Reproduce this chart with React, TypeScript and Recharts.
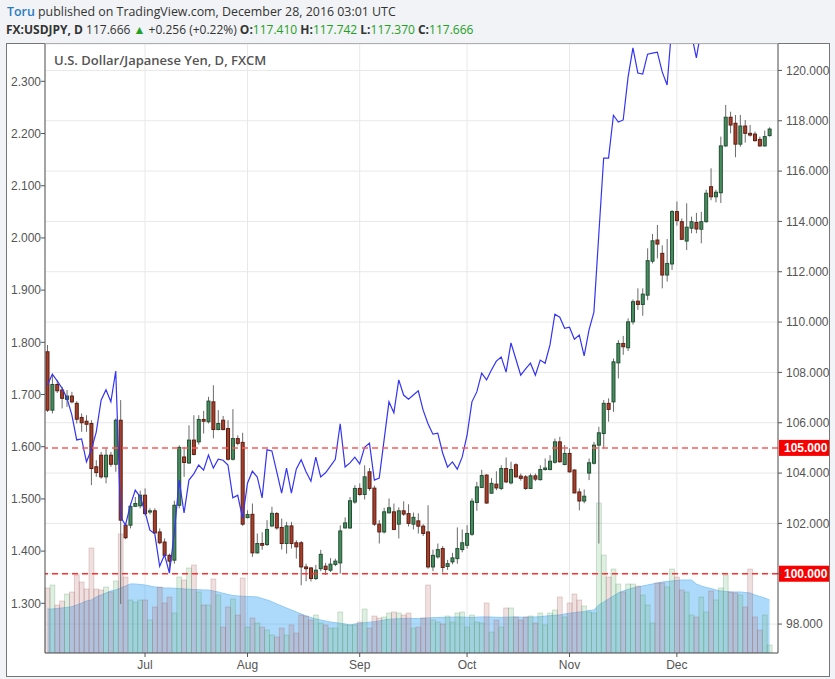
import React from "react";
import { ComposedChart, XAxis, YAxis, CartesianGrid, Bar, Line, Area, ReferenceLine } from "recharts";

// daily bars, first session of the window
const firstDay = "2016-06-03";
const monthStarts = ["2016-07-01", "2016-08-01", "2016-09-01", "2016-10-03", "2016-11-01", "2016-12-01"];
const monthNames = ["Jan", "Feb", "Mar", "Apr", "May", "Jun", "Jul", "Aug", "Sep", "Oct", "Nov", "Dec"];

// FX:USDJPY daily candles (right scale)
const opens = [
  108.82, 106.5, 107.52, 107.3, 106.93, 107.06, 106.77, 106.21, 106.06, 105.97,
  104.25, 104.71, 103.85, 104.71, 104.35, 106.1, 101.93, 101.93, 102.68, 102.7,
  103.12, 102.45, 102.5, 101.66, 101.26, 100.73, 100.54, 102.72, 104.64, 104.4,
  105.31, 105.24, 106.13, 106.04, 106.83, 105.73, 106.1, 105.77, 104.55, 105.37,
  105.22, 102.23, 102.36, 100.83, 101.2, 101.16, 101.9, 102.39, 101.84, 101.2,
  101.9, 101.23, 101.23, 100.27, 100.23, 99.81, 100.2, 100.3, 100.14, 100.37,
  100.43, 101.82, 101.82, 102.85, 103.39, 103.15, 104.05, 103.4, 101.97, 101.66,
  102.42, 102.46, 101.97, 102.5, 102.39, 101.97, 102.1, 101.89, 101.66, 100.27,
  100.67, 101.0, 100.29, 100.47, 100.6, 100.96, 101.13, 101.57, 102.83, 103.43,
  103.92, 103.2, 103.56, 103.39, 104.18, 103.61, 104.33, 103.88, 103.85, 103.39,
  103.89, 103.74, 104.14, 104.14, 104.43, 105.24, 104.34, 104.78, 104.12, 103.25,
  102.89, 104.0, 104.39, 105.11, 105.57, 106.77, 106.83, 108.38, 109.15, 108.98,
  110.01, 110.83, 110.7, 111.07, 112.42, 113.26, 112.73, 111.87, 112.31, 114.39,
  113.99, 113.22, 113.73, 113.96, 113.69, 113.99, 115.38, 114.98, 115.14, 117.0,
  118.14, 117.9, 117.07, 117.79, 117.5, 117.47, 117.26, 117.0, 117.41,
];
const highs = [
  109.09, 107.89, 107.69, 107.43, 107.3, 107.23, 106.86, 106.37, 106.3, 106.1,
  104.51, 104.84, 104.98, 104.84, 106.17, 106.9, 102.0, 102.8, 103.05, 103.3,
  103.39, 102.6, 102.6, 101.8, 101.4, 100.8, 102.9, 105.1, 105.04, 105.9,
  106.3, 106.3, 106.47, 107.03, 107.49, 106.5, 106.27, 106.1, 106.54, 105.5,
  105.6, 102.52, 102.79, 101.6, 101.65, 102.13, 102.66, 102.45, 102.19, 102.06,
  102.06, 101.33, 101.3, 100.4, 100.27, 100.35, 100.95, 100.43, 100.62, 100.6,
  101.92, 102.24, 103.05, 103.52, 103.59, 104.31, 104.2, 103.5, 102.13, 102.62,
  102.99, 102.79, 102.64, 102.88, 102.76, 102.43, 102.4, 101.97, 102.72, 100.96,
  101.2, 101.1, 100.55, 100.83, 101.84, 101.76, 101.93, 103.0, 103.65, 104.13,
  103.95, 103.8, 104.07, 104.31, 104.62, 104.45, 104.39, 103.98, 103.92, 103.98,
  103.98, 104.31, 104.58, 104.71, 105.37, 105.44, 105.11, 104.98, 104.15, 103.39,
  103.35, 104.58, 105.24, 105.84, 106.9, 106.97, 108.55, 109.28, 109.45, 110.15,
  110.9, 111.34, 111.34, 112.93, 113.5, 113.86, 113.05, 113.3, 114.45, 114.79,
  114.12, 114.72, 114.19, 114.34, 114.38, 115.26, 116.11, 115.26, 117.37, 118.63,
  118.36, 118.23, 118.23, 118.03, 117.83, 117.57, 117.37, 117.61, 117.74,
];
const lows = [
  106.43, 106.37, 107.18, 106.57, 106.63, 106.77, 105.97, 105.64, 105.64, 103.52,
  103.85, 103.78, 103.59, 104.25, 104.05, 98.8, 101.37, 101.8, 102.65, 102.6,
  102.32, 102.35, 101.6, 101.17, 100.69, 100.15, 100.4, 102.6, 103.85, 104.36,
  104.7, 105.13, 105.57, 105.97, 105.38, 105.7, 105.7, 104.5, 104.5, 105.1,
  101.9, 102.2, 100.67, 100.8, 100.95, 101.1, 101.85, 101.75, 100.96, 100.8,
  101.0, 100.6, 99.54, 99.7, 99.69, 99.75, 100.1, 99.95, 100.07, 100.3,
  100.01, 101.8, 101.78, 102.78, 103.1, 102.95, 103.3, 101.9, 101.2, 101.6,
  102.4, 101.73, 101.4, 102.3, 101.88, 101.76, 101.6, 101.5, 100.2, 100.1,
  100.6, 100.05, 100.15, 100.37, 100.4, 100.85, 101.0, 101.5, 102.5, 103.4,
  102.78, 103.2, 103.32, 103.32, 103.6, 103.55, 103.82, 103.7, 103.33, 103.37,
  103.68, 103.7, 104.1, 104.11, 104.38, 104.41, 104.31, 104.01, 103.2, 102.52,
  102.8, 103.72, 104.34, 101.2, 104.98, 106.04, 106.43, 107.76, 108.7, 108.85,
  109.9, 110.48, 110.25, 110.87, 112.33, 112.53, 111.34, 111.61, 112.07, 113.83,
  113.26, 112.86, 113.53, 113.53, 113.13, 113.95, 114.84, 114.76, 114.73, 116.97,
  117.5, 116.55, 116.97, 117.13, 117.37, 117.17, 116.97, 116.97, 117.37,
];
const closes = [
  106.5, 107.52, 107.27, 106.97, 107.06, 106.83, 106.14, 106.0, 105.94, 104.18,
  104.02, 103.85, 104.71, 104.35, 106.1, 102.13, 101.43, 102.68, 102.79, 103.12,
  102.39, 102.5, 101.62, 101.23, 100.73, 100.5, 102.72, 105.02, 104.42, 105.31,
  104.74, 106.13, 106.06, 106.86, 105.73, 105.97, 105.73, 104.55, 105.37, 105.18,
  101.97, 102.35, 100.83, 101.2, 101.13, 101.76, 102.4, 101.82, 101.2, 101.9,
  101.2, 101.07, 100.27, 100.2, 99.81, 100.14, 100.77, 100.17, 100.38, 100.5,
  101.7, 102.02, 102.9, 103.39, 103.15, 103.85, 103.39, 101.97, 101.66, 102.46,
  102.62, 101.76, 102.5, 102.37, 102.0, 102.24, 101.89, 101.6, 100.27, 100.73,
  100.96, 100.25, 100.4, 100.63, 101.0, 101.23, 101.6, 102.88, 103.45, 103.9,
  102.81, 103.59, 103.41, 104.18, 103.65, 104.14, 103.85, 103.79, 103.39, 103.89,
  103.76, 104.14, 104.2, 104.47, 105.24, 104.45, 104.78, 104.05, 103.21, 102.89,
  103.08, 104.41, 105.11, 105.6, 106.77, 106.53, 108.42, 109.15, 109.02, 110.01,
  110.81, 110.7, 111.11, 112.44, 113.23, 113.1, 111.87, 112.33, 114.39, 114.03,
  113.29, 113.77, 113.99, 113.7, 113.99, 115.12, 114.98, 115.16, 117.0, 118.14,
  117.83, 117.07, 117.79, 117.5, 117.43, 117.21, 117.0, 117.37, 117.67,
];

// comparison symbol (blue line, left scale)
const compare = [
  1.718, 1.739, 1.726, 1.712, 1.693, 1.661, 1.613, 1.615, 1.571, 1.594,
  1.628, 1.689, 1.709, 1.686, 1.745, 1.465, 1.45, 1.488, 1.517, 1.504,
  1.475, 1.44, 1.433, 1.371, 1.393, 1.358, 1.435, 1.536, 1.473, 1.536,
  1.548, 1.565, 1.555, 1.584, 1.559, 1.576, 1.574, 1.565, 1.502, 1.507,
  1.463, 1.53, 1.553, 1.542, 1.502, 1.594, 1.592, 1.552, 1.511, 1.559,
  1.511, 1.557, 1.575, 1.552, 1.534, 1.58, 1.542, 1.55, 1.563, 1.576,
  1.644, 1.561, 1.569, 1.58, 1.567, 1.599, 1.607, 1.536, 1.54, 1.613,
  1.686, 1.665, 1.728, 1.699, 1.691, 1.699, 1.707, 1.67, 1.644, 1.624,
  1.626, 1.588, 1.561, 1.571, 1.557, 1.58, 1.622, 1.686, 1.705, 1.741,
  1.728, 1.747, 1.764, 1.772, 1.743, 1.799, 1.768, 1.737, 1.749, 1.76,
  1.737, 1.766, 1.76, 1.795, 1.854, 1.848, 1.827, 1.829, 1.806, 1.814,
  1.774, 1.824, 1.858, 2.006, 2.153, 2.153, 2.235, 2.222, 2.226, 2.308,
  2.364, 2.316, 2.314, 2.352, 2.354, 2.356, 2.318, 2.293, 2.41, 2.43,
  2.42, 2.4, 2.39, 2.345, 2.4, 2.43, 2.44, 2.45, 2.48, 2.51,
  2.5, 2.49, 2.5, 2.49, 2.48, 2.48, 2.47, 2.48, 2.49,
];

// volume and its moving average (hidden scale)
const volume = [
  65, 68, 48, 52, 59, 61, 78, 71, 64, 105,
  64, 63, 66, 61, 72, 119, 76, 53, 51, 53,
  53, 33, 46, 66, 50, 56, 40, 76, 73, 85,
  88, 61, 48, 48, 74, 58, 26, 46, 54, 38,
  75, 26, 35, 30, 26, 23, 18, 16, 25, 18,
  28, 20, 38, 37, 33, 38, 30, 28, 25, 25,
  41, 28, 28, 28, 31, 44, 25, 37, 35, 36,
  40, 41, 40, 38, 40, 25, 26, 35, 68, 33,
  31, 29, 37, 31, 40, 41, 26, 38, 31, 30,
  50, 21, 33, 26, 45, 45, 36, 33, 36, 37,
  30, 40, 28, 40, 43, 56, 36, 50, 59, 53,
  47, 41, 40, 150, 98, 76, 84, 69, 61, 69,
  69, 67, 58, 48, 30, 70, 70, 66, 84, 76,
  63, 61, 38, 36, 56, 41, 62, 53, 65, 78,
  61, 60, 58, 46, 84, 36, 23, 38, 8,
];
const volumeMA = [
  44, 44, 44.5, 45, 45.5, 46.3, 48, 50, 52, 53,
  56, 58, 60, 62, 63, 65, 67, 69, 69, 68.5,
  68, 67, 66, 65.5, 65, 65, 64.7, 64.5, 64, 63.7,
  63.5, 63.3, 63, 63, 62, 61, 59.7, 58.5, 57.5, 57,
  56.7, 56.5, 56.3, 56, 54.5, 53, 51.3, 49, 47, 45,
  43, 41, 39, 37, 35.5, 34, 33, 32, 31, 30.3,
  29.7, 29, 28, 29, 29.7, 30.3, 30.8, 31.3, 32, 33,
  33.7, 34, 34.3, 34.5, 34.7, 34.5, 34.5, 34.7, 35, 35.3,
  35.5, 35.7, 35.6, 35.8, 36, 35.9, 35.7, 35.6, 35.8, 36,
  36.1, 35.9, 35.7, 35.6, 35.8, 35.9, 36, 35.8, 35.7, 35.9,
  36, 36.3, 36.8, 37.3, 37.7, 38, 39, 39.7, 40.3, 41,
  41.3, 42.5, 43, 48, 51, 54, 57, 60, 62, 63.5,
  65, 66, 67, 68, 69, 70, 71, 71.5, 72, 72.5,
  73, 73, 73, 69, 67, 65.5, 64.5, 63, 62, 61.5,
  61, 61, 61, 60.5, 60, 58, 56.5, 55, 53,
];

const rightTicks = [98, 100, 102, 104, 106, 108, 110, 112, 114, 116, 118, 120];
const leftTicks = [1.3, 1.4, 1.5, 1.6, 1.7, 1.8, 1.9, 2.0, 2.1, 2.2, 2.3];
const priceLevels = [105, 100];

const AX_FONT = "'Liberation Sans', Arial, sans-serif";
const UI_FONT = "'Open Sans', 'Noto Sans', sans-serif";
const PLOT_W = 733;
const PAD_R = 6;
const BAND = (PLOT_W - PAD_R) / opens.length;

function tradingDays(start: string, n: number) {
  const out: string[] = [];
  const d = new Date(start + "T00:00:00Z");
  while (out.length < n) {
    const w = d.getUTCDay();
    if (w !== 0 && w !== 6) out.push(d.toISOString().slice(0, 10));
    d.setUTCDate(d.getUTCDate() + 1);
  }
  return out;
}

const dates = tradingDays(firstDay, opens.length);
const rows = dates.map((date, i) => ({
  date,
  open: opens[i],
  high: highs[i],
  low: lows[i],
  close: closes[i],
  cmp: compare[i],
  vol: volume[i],
  vma: volumeMA[i],
}));

function Candle(props: any) {
  const { x, y, width, height, payload } = props;
  if (x == null || !payload) return null;
  const top = Math.min(y, y + height);
  const bottom = Math.max(y, y + height);
  const span = payload.high - payload.low;
  const k = span > 0 ? (bottom - top) / span : 0;
  const at = (v: number) => top + (payload.high - v) * k;
  const cx = x + width / 2;
  const up = payload.close >= payload.open;
  const bTop = at(Math.max(payload.open, payload.close));
  const bBot = at(Math.min(payload.open, payload.close));
  return (
    <g>
      <line x1={cx} x2={cx} y1={top} y2={bottom} stroke="#6b6b6b" strokeWidth={1} />
      <rect
        x={cx - 1.5}
        y={bTop}
        width={3}
        height={Math.max(bBot - bTop, 1)}
        fill={up ? "#468c5f" : "#a63f2b"}
        stroke={up ? "#234f33" : "#5c1d12"}
        strokeWidth={1}
      />
    </g>
  );
}

function VolBar(props: any) {
  const { x, y, width, height, payload } = props;
  if (x == null || !payload) return null;
  const up = payload.close >= payload.open;
  const cx = x + width / 2;
  return (
    <rect
      x={cx - BAND / 2}
      y={y}
      width={BAND}
      height={Math.max(height, 0)}
      fill={up ? "rgba(110,180,120,0.22)" : "rgba(185,110,110,0.22)"}
      stroke={up ? "rgba(70,140,85,0.28)" : "rgba(150,80,80,0.28)"}
      strokeWidth={0.8}
    />
  );
}

function LeftTick(props: any) {
  const { x, y, payload } = props;
  return (
    <svg x={0} y={y - 9} width={x} height={18} overflow="hidden">
      <text x={11} y={9} dy="0.355em" fontSize={12} fill="#555" fontFamily={AX_FONT}>
        {Number(payload.value).toFixed(3)}
      </text>
    </svg>
  );
}

function PriceTag(props: any) {
  const vb = props.viewBox || {};
  const left = vb.x + vb.width + 1;
  return (
    <g>
      <rect x={left} y={vb.y - 8} width={51} height={16} fill="#f80000" />
      <text x={left + 5} y={vb.y} dy="0.355em" fontSize={12} fontWeight={700} fill="#fff" fontFamily={AX_FONT}>
        {props.text}
      </text>
    </g>
  );
}

function Header() {
  const green = "#22a022";
  return (
    <svg width={835} height={43} style={{ position: "absolute", left: 0, top: 0 }}>
      <text x={7} y={16} fontFamily={UI_FONT} fontSize={12.4} fill="#333">
        <tspan fill="#2a7cc0" fontWeight={600}>Toru</tspan>
        <tspan> published on TradingView.com, December 28, 2016 03:01 UTC</tspan>
      </text>
      <text x={6} y={33.5} fontFamily={UI_FONT} fontSize={12} fill="#333">
        <tspan fontWeight={700}>FX:USDJPY, D</tspan>
        <tspan> 117.666 </tspan>
        <tspan fill={green}>▲</tspan>
        <tspan> +0.256 (+0.22%) </tspan>
        <tspan fontWeight={700}>O:</tspan>
        <tspan fill={green}>117.410 </tspan>
        <tspan fontWeight={700}>H:</tspan>
        <tspan fill={green}>117.742 </tspan>
        <tspan fontWeight={700}>L:</tspan>
        <tspan fill={green}>117.370 </tspan>
        <tspan fontWeight={700}>C:</tspan>
        <tspan fill={green}>117.666</tspan>
      </text>
    </svg>
  );
}

export default function App() {
  return (
    <div style={{ position: "absolute", left: 0, top: 0, width: 835, height: 679, background: "#f1f3f6", overflow: "hidden" }}>
      <Header />
      <div
        style={{
          position: "absolute",
          left: 6,
          top: 43,
          width: 824,
          height: 634,
          boxSizing: "border-box",
          border: "1px solid #777",
          background: "#fff",
        }}
      />
      <div style={{ position: "absolute", left: 0, top: 0 }}>
        <ComposedChart
          width={829}
          height={679}
          data={rows}
          margin={{ top: 44, right: 0, bottom: 0, left: 0 }}
          barCategoryGap={0}
          barGap={0}
        >
          <CartesianGrid xAxisId="x" yAxisId="right" stroke="#e8e8e8" fill="#fff" />
          <XAxis
            xAxisId="x"
            dataKey="date"
            ticks={monthStarts}
            interval={0}
            padding={{ left: 0, right: PAD_R }}
            height={26}
            tickSize={4}
            tickMargin={3}
            axisLine={{ stroke: "#555" }}
            tickLine={{ stroke: "#555" }}
            tick={{ fill: "#555", fontSize: 12, fontFamily: AX_FONT }}
            tickFormatter={(d: string) => monthNames[Number(d.slice(5, 7)) - 1]}
          />
          <XAxis xAxisId="xv" dataKey="date" hide padding={{ left: 0, right: PAD_R }} />
          <YAxis
            yAxisId="left"
            orientation="left"
            width={45}
            domain={[1.2048, 2.3715]}
            allowDataOverflow
            ticks={leftTicks}
            tickSize={4}
            tickMargin={0}
            axisLine={{ stroke: "#555" }}
            tickLine={{ stroke: "#555" }}
            tick={<LeftTick />}
          />
          <YAxis
            yAxisId="right"
            orientation="right"
            width={51}
            domain={[96.85, 121.05]}
            allowDataOverflow
            ticks={rightTicks}
            tickSize={4}
            tickMargin={4}
            axisLine={{ stroke: "#555" }}
            tickLine={{ stroke: "#555" }}
            tick={{ fill: "#555", fontSize: 12, fontFamily: AX_FONT }}
            tickFormatter={(v: number) => (priceLevels.includes(v) ? "" : v.toFixed(3))}
          />
          <YAxis yAxisId="vol" hide domain={[0, 609]} allowDataOverflow />
          <Area
            xAxisId="xv"
            yAxisId="vol"
            dataKey="vma"
            type="linear"
            stroke="#8fcaf3"
            strokeWidth={1}
            fill="#4aaef5"
            fillOpacity={0.45}
            isAnimationActive={false}
          />
          <Bar xAxisId="xv" yAxisId="vol" dataKey="vol" shape={<VolBar />} isAnimationActive={false} />
          <Bar
            xAxisId="x"
            yAxisId="right"
            dataKey={(d: any) => [d.low, d.high]}
            shape={<Candle />}
            isAnimationActive={false}
          />
          <Line
            xAxisId="x"
            yAxisId="left"
            dataKey="cmp"
            type="linear"
            stroke="#3434f2"
            strokeWidth={1.2}
            dot={false}
            activeDot={false}
            isAnimationActive={false}
          />
          {priceLevels.map((p, i) => (
            <ReferenceLine
              key={p}
              xAxisId="x"
              yAxisId="right"
              y={p}
              stroke={i === 0 ? "#ff5a5a" : "#ff2f2f"}
              strokeWidth={1.5}
              strokeDasharray="6 4"
              label={<PriceTag text={p.toFixed(3)} />}
            />
          ))}
        </ComposedChart>
      </div>
      <svg width={835} height={679} style={{ position: "absolute", left: 0, top: 0, pointerEvents: "none" }}>
        <text x={54} y={65} fontFamily={UI_FONT} fontSize={13} fontWeight={600} fill="#555">
          U.S. Dollar/Japanese Yen, D, FXCM
        </text>
      </svg>
    </div>
  );
}
